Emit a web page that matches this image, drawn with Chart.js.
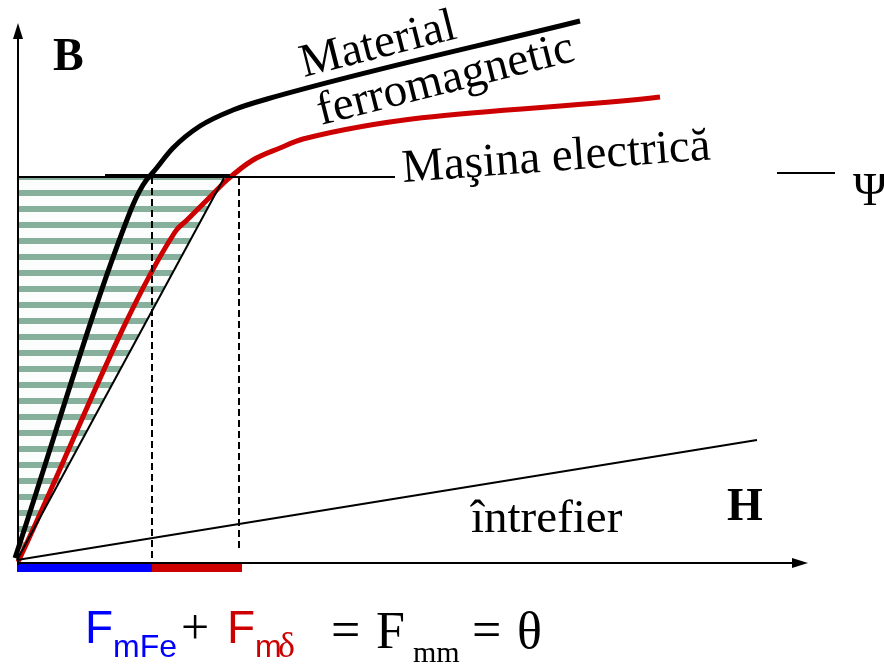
<!DOCTYPE html>
<html>
<head>
<meta charset="utf-8">
<script src="https://cdn.jsdelivr.net/npm/chart.js@4.4.1/dist/chart.umd.min.js"></script>
<style>
  body { margin: 0; background: #fff; }
  #wrap { width: 884px; height: 664px; }
</style>
</head>
<body>
<div id="wrap"><canvas id="bhChart" width="884" height="664"></canvas></div>
<script>
// curba B(H) material feromagnetic
const ferroH = [-2, 113, 126, 138, 156, 183, 216, 250, 563];
const ferroB = [5, 351, 378, 393, 415, 437, 453, 464, 542];
// curba masinii electrice
const masinaH = [1, 158, 170, 190, 210, 236, 263, 286, 643];
const masinaB = [1, 331, 343, 363, 383, 403, 415, 424, 466];
// dreapta intrefierului
const gapH = [0, 740];
const gapB = [3, 123];
// triunghiul hasurat (dreapta de lucru)
const workH = [0, 207, 0, 0];
const workB = [3, 385, 385, 3];
// nivelul fluxului Psi
const psiB = 386;
const psiLineH = [0, 378];
const psiShortH = [88, 213];
const psiMarkH = [760, 818];
// solicitarile pe axa H
const fmFe = [0, 135];
const fmDelta = [135, 225];
const fmDashTop = 386;

const red = '#cc0000';
const blue = '#0000ff';
const serif = '"Liberation Serif", "DejaVu Serif", serif';
const sans = '"Liberation Sans", Arial, sans-serif';

const pts = (xs, ys) => xs.map((x, i) => ({ x: x, y: Array.isArray(ys) ? ys[i] : ys }));

// hasura orizontala verde
const patCanvas = document.createElement('canvas');
patCanvas.width = 4; patCanvas.height = 16;
const pc = patCanvas.getContext('2d');
pc.fillStyle = '#fbfdfc';
pc.fillRect(0, 0, 4, 16);
pc.fillStyle = '#86b09c';
pc.fillRect(0, 0, 4, 4);
pc.fillRect(0, 14, 4, 2);
const hatch = pc.createPattern(patCanvas, 'repeat');

// varf de sageata
const arrow = document.createElement('canvas');
arrow.width = 10; arrow.height = 16;
const ac = arrow.getContext('2d');
ac.fillStyle = '#000';
ac.beginPath();
ac.moveTo(5, 0); ac.lineTo(10, 16); ac.lineTo(0, 16); ac.closePath();
ac.fill();

const texts = [
  { t: 'B', h: 36, b: 493, font: 'bold 46px ' + serif },
  { t: 'H', h: 710, b: 43, font: 'bold 46px ' + serif },
  { t: 'Material', h: 287, b: 486, font: '47px ' + serif, rot: -14.2 },
  { t: 'ferromagnetic', h: 304, b: 438, font: '47px ' + serif, rot: -14.2 },
  { t: 'Maşina electrică', h: 386, b: 381, font: '47px ' + serif, rot: -4.2 },
  { t: 'întrefier', h: 454, b: 31, font: '47px ' + serif },
  { t: 'Ψ', h: 836, b: 358, font: '46px ' + serif },
  { t: 'F', h: 68, b: -80, font: '46px ' + sans, color: blue },
  { t: 'mFe', h: 96, b: -94, font: '32px ' + sans, color: blue },
  { t: '+', h: 164, b: -81, font: '50px ' + serif },
  { t: 'F', h: 210, b: -80, font: '46px ' + sans, color: red },
  { t: 'm', h: 238, b: -94, font: '32px ' + sans, color: red },
  { t: 'δ', h: 261, b: -94, font: '36px ' + serif, color: red },
  { t: '=', h: 314, b: -84, font: '52px ' + serif },
  { t: 'F', h: 359, b: -85, font: '52px ' + serif },
  { t: 'mm', h: 396, b: -99, font: '30px ' + serif },
  { t: '=', h: 455, b: -84, font: '52px ' + serif },
  { t: 'θ', h: 500, b: -85, font: '52px ' + serif }
];

const textPlugin = {
  id: 'texts',
  afterDatasetsDraw(chart) {
    const ctx = chart.ctx;
    const sx = chart.scales.x, sy = chart.scales.y;
    texts.forEach(d => {
      ctx.save();
      ctx.translate(sx.getPixelForValue(d.h), sy.getPixelForValue(d.b));
      if (d.rot) ctx.rotate(d.rot * Math.PI / 180);
      ctx.font = d.font;
      ctx.fillStyle = d.color || '#000';
      ctx.textBaseline = 'alphabetic';
      ctx.fillText(d.t, 0, 0);
      ctx.restore();
    });
  }
};

const line = (data, color, width, extra) => Object.assign({
  data: data,
  showLine: true,
  borderColor: color,
  borderWidth: width,
  pointRadius: 0,
  fill: false,
  tension: 0
}, extra || {});

new Chart(document.getElementById('bhChart'), {
  type: 'scatter',
  data: {
    datasets: [
      line(pts(workH, workB), 'rgba(0,0,0,0)', 0, { fill: 'shape', backgroundColor: hatch, order: 10 }),
      line(pts([0, 207], [3, 385]), '#000', 2),
      line(pts(psiLineH, psiB), '#000', 2),
      line(pts(psiShortH, psiB + 2), '#000', 2),
      line(pts(psiMarkH, psiB + 4), '#000', 2),
      line(pts(gapH, gapB), '#000', 2),
      line(pts([fmFe[1], fmFe[1]], [5, fmDashTop]), '#000', 2, { borderDash: [7, 4] }),
      line(pts([fmDelta[1] - 3, fmDelta[1] - 3], [15, fmDashTop]), '#000', 2, { borderDash: [7, 4] }),
      // axe
      line(pts([1, 1], [-2, 530]), '#000', 2),
      line(pts([0, 785], [0, 0]), '#000', 2),
      { data: [{ x: 1, y: 532 }], pointStyle: arrow, pointRadius: 5, pointRotation: 0 },
      { data: [{ x: 783, y: 0 }], pointStyle: arrow, pointRadius: 5, pointRotation: 90 },
      line(pts(fmFe, -5), blue, 8, { borderCapStyle: 'butt' }),
      line(pts(fmDelta, -5), red, 8, { borderCapStyle: 'butt' }),
      line(pts(ferroH, ferroB), '#000', 5, { cubicInterpolationMode: 'monotone' }),
      line(pts(masinaH, masinaB), red, 5, { cubicInterpolationMode: 'monotone' })
    ]
  },
  options: {
    responsive: false,
    animation: false,
    events: [],
    layout: { padding: 0, autoPadding: false },
    plugins: {
      legend: { display: false },
      tooltip: { enabled: false }
    },
    scales: {
      x: { type: 'linear', min: -17, max: 867, display: false },
      y: { type: 'linear', min: -101, max: 563, display: false }
    }
  },
  plugins: [textPlugin]
});
</script>
</body>
</html>
